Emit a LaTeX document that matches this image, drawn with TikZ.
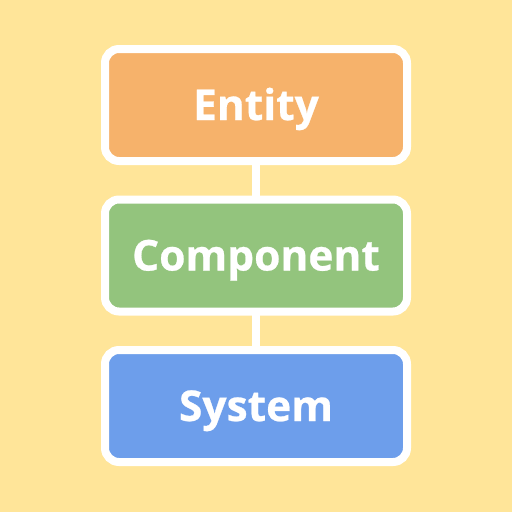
\documentclass[tikz,border=0pt]{standalone}
\usepackage{fontspec}
\setmainfont{Open Sans}[BoldFeatures={FakeBold=0.6}]
\usetikzlibrary{positioning}

\definecolor{bgyellow}{HTML}{FFE599}
\definecolor{entityorange}{HTML}{F6B26B}
\definecolor{compgreen}{HTML}{93C47D}
\definecolor{sysblue}{HTML}{6D9EEB}

\tikzset{
  ecsbox/.style={draw=white, line width=8pt, rounded corners=14pt, outer sep=0pt,
    minimum width=302pt, minimum height=112pt, text=white,
    text height=30pt, text depth=0pt,
    font=\fontsize{42.5}{50}\selectfont\bfseries},
  link/.style={draw=white, line width=8.5pt}
}

\begin{document}
\begin{tikzpicture}[node distance=38.5pt]
      % background
      \fill[bgyellow] (0,0) rectangle (512pt,-512pt);
      \useasboundingbox (0,0) rectangle (512pt,-512pt);
      % Nodes
      \node[ecsbox, fill=entityorange] (entity) at (256pt,-105pt) {Entity};
      \node[ecsbox, fill=compgreen, below = of entity] (component) {Component};
      \node[ecsbox, fill=sysblue, below = of component] (system) {System};
      % edges
      \draw[link] (entity) -- (component);
      \draw[link] (component) -- (system);
\end{tikzpicture}
\end{document}
